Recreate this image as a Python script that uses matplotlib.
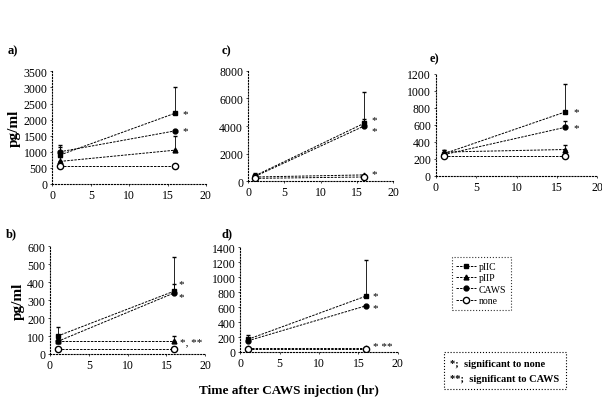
import matplotlib.pyplot as plt
from matplotlib.lines import Line2D

plt.rcParams['font.family'] = ['Liberation Serif', 'DejaVu Serif']

# time points (hr)
times = [1, 16]
groups = ['pIIC', 'pIIP', 'CAWS', 'none']

# panel values: mean at each time, upper error
a_vals = {'pIIC': [900, 2200], 'pIIP': [700, 1050], 'CAWS': [1000, 1650], 'none': [550, 550]}
a_err = {'pIIC': [250, 800], 'pIIP': [150, 450], 'CAWS': [200, 0], 'none': [0, 0]}
c_vals = {'pIIC': [400, 4200], 'pIIP': [300, 450], 'CAWS': [350, 4000], 'none': [200, 300]}
c_err = {'pIIC': [200, 2300], 'pIIP': [0, 0], 'CAWS': [0, 500], 'none': [0, 0]}
e_vals = {'pIIC': [260, 750], 'pIIP': [280, 310], 'CAWS': [250, 570], 'none': [230, 230]}
e_err = {'pIIC': [50, 330], 'pIIP': [20, 50], 'CAWS': [0, 80], 'none': [0, 0]}
b_vals = {'pIIC': [100, 350], 'pIIP': [70, 70], 'CAWS': [70, 340], 'none': [30, 30]}
b_err = {'pIIC': [50, 190], 'pIIP': [0, 30], 'CAWS': [0, 50], 'none': [0, 0]}
d_vals = {'pIIC': [170, 750], 'pIIP': [50, 50], 'CAWS': [150, 620], 'none': [40, 40]}
d_err = {'pIIC': [60, 480], 'pIIP': [0, 0], 'CAWS': [0, 0], 'none': [0, 0]}

# significance marks: (x, y, text)
a_sig = [(17, 2200, '*'), (17, 1650, '*')]
c_sig = [(17, 4500, '*'), (17, 3700, '*'), (17, 550, '*')]
e_sig = [(17, 760, '*'), (17, 570, '*')]
b_sig = [(16.6, 390, '*'), (16.6, 320, '*'), (16.8, 70, '*, **')]
d_sig = [(16.8, 760, '*'), (16.8, 600, '*'), (16.8, 70, '* **')]

styles = {
    'pIIC': dict(marker='s', mfc='black', ms=3.5),
    'pIIP': dict(marker='^', mfc='black', ms=3.5),
    'CAWS': dict(marker='o', mfc='black', ms=3.5),
    'none': dict(marker='o', mfc='white', ms=4.5),
}
dash = (0, (2.5, 1.2))

fig = plt.figure(figsize=(6.02, 4.02), dpi=100)


def panel(rect, vals, errs, sig, ymax, ystep, label, lpos, ylabel=False):
    ax = fig.add_axes(rect)
    for g in groups:
        ax.errorbar(times, vals[g], yerr=[[0, 0], errs[g]], color='black',
                    ls=dash, lw=0.7, mec='black', capsize=1.5,
                    elinewidth=0.6, **styles[g])
    for x, y, t in sig:
        ax.text(x, y, t, fontsize=8, va='center', ha='left')
    ax.set_xlim(0, 20)
    ax.set_ylim(0, ymax)
    ax.set_xticks([0, 5, 10, 15, 20])
    ax.set_yticks(range(0, ymax + 1, ystep))
    for s in ['top', 'right']:
        ax.spines[s].set_visible(False)
    for s in ['left', 'bottom']:
        ax.spines[s].set_linestyle(':')
        ax.spines[s].set_linewidth(0.8)
    ax.tick_params(labelsize=8.5, length=1.5, width=0.5, pad=2)
    fig.text(lpos[0], lpos[1], label, fontsize=9, fontweight='bold')
    if ylabel:
        ax.set_ylabel('pg/ml', fontsize=11, fontweight='bold', labelpad=2)
    return ax


ax_a = panel([0.087, 0.54, 0.255, 0.28], a_vals, a_err, a_sig, 3500, 500, 'a)', (0.012, 0.865), True)
ax_c = panel([0.412, 0.547, 0.241, 0.274], c_vals, c_err, c_sig, 8000, 2000, 'c)', (0.368, 0.865))
ax_e = panel([0.724, 0.56, 0.268, 0.254], e_vals, e_err, e_sig, 1200, 200, 'e)', (0.714, 0.845))
ax_b = panel([0.083, 0.117, 0.258, 0.268], b_vals, b_err, b_sig, 600, 100, 'b)', (0.01, 0.41), True)
ax_d = panel([0.399, 0.122, 0.262, 0.26], d_vals, d_err, d_sig, 1400, 200, 'd)', (0.368, 0.41))

handles = [Line2D([], [], color='black', ls=dash, lw=0.7, mec='black', **styles[g]) for g in groups]
leg = fig.legend(handles, groups, loc='upper left', bbox_to_anchor=(0.742, 0.37),
                 fontsize=7, frameon=True, fancybox=False, handlelength=2.0,
                 handletextpad=0.3, borderpad=0.5, labelspacing=0.25)
leg.get_frame().set_edgecolor('black')
leg.get_frame().set_linestyle(':')
leg.get_frame().set_linewidth(0.8)

fig.text(0.748, 0.05, '*;  significant to none\n**;  significant to CAWS',
         fontsize=7.5, fontweight='bold', linespacing=1.9,
         bbox=dict(boxstyle='square,pad=0.6', fc='white', ec='black', ls=':', lw=0.8))

fig.text(0.48, 0.02, 'Time after CAWS injection (hr)', ha='center',
         fontsize=9.5, fontweight='bold')

fig.savefig('out.png', dpi=100)
